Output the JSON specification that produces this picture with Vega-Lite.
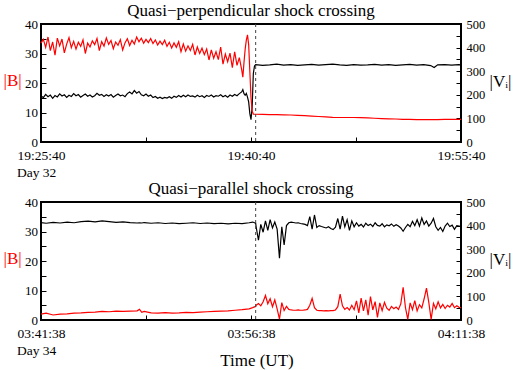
{
  "$schema": "https://vega.github.io/schema/vega-lite/v6.json",
  "background": "white",
  "padding": {"left": 2, "right": 4, "top": 1, "bottom": 2},
  "config": {
    "font": "Liberation Serif",
    "view": {"stroke": "black", "strokeWidth": 2},
    "axis": {
      "domain": false,
      "grid": false,
      "tickColor": "black",
      "tickWidth": 1,
      "tickSize": -5,
      "labelColor": "black",
      "labelFont": "Liberation Serif",
      "titleFont": "Liberation Serif",
      "titleFontWeight": "normal",
      "titleColor": "black",
      "labelFlush": false,
      "labelOverlap": false
    },
    "title": {"font": "Liberation Serif", "fontWeight": "normal", "fontSize": 17, "color": "black"}
  },
  "title": {"text": "Time (UT)", "orient": "bottom", "fontSize": 17, "anchor": "middle", "offset": -5},
  "spacing": -1,
  "vconcat": [
    {
      "width": 420,
      "height": 118,
      "title": {"text": "Quasi−perpendicular shock crossing", "frame": "group", "offset": -2},
      "data": {
        "format": {"parse": {"t": "utc:'%H:%M:%S'"}},
        "values": [
          {"t": "19:25:40", "B": 33.5, "V": 196}, {"t": "19:25:50", "B": 34.8, "V": 188},
          {"t": "19:26:00", "B": 32.1, "V": 202}, {"t": "19:26:10", "B": 35.6, "V": 192},
          {"t": "19:26:20", "B": 31.0, "V": 199}, {"t": "19:26:30", "B": 33.9, "V": 185},
          {"t": "19:26:40", "B": 29.4, "V": 197}, {"t": "19:26:50", "B": 35.2, "V": 191},
          {"t": "19:27:00", "B": 32.6, "V": 204}, {"t": "19:27:10", "B": 34.9, "V": 195},
          {"t": "19:27:20", "B": 30.2, "V": 200}, {"t": "19:27:30", "B": 33.2, "V": 189},
          {"t": "19:27:40", "B": 35.4, "V": 198}, {"t": "19:27:50", "B": 32.0, "V": 193},
          {"t": "19:28:00", "B": 34.1, "V": 205}, {"t": "19:28:10", "B": 31.5, "V": 196},
          {"t": "19:28:20", "B": 33.8, "V": 201}, {"t": "19:28:30", "B": 32.4, "V": 190},
          {"t": "19:28:40", "B": 34.6, "V": 197}, {"t": "19:28:50", "B": 30.0, "V": 203},
          {"t": "19:29:00", "B": 33.5, "V": 194}, {"t": "19:29:10", "B": 32.2, "V": 199},
          {"t": "19:29:20", "B": 34.3, "V": 191}, {"t": "19:29:30", "B": 33.0, "V": 196},
          {"t": "19:29:40", "B": 35.1, "V": 206}, {"t": "19:29:50", "B": 31.0, "V": 198},
          {"t": "19:30:00", "B": 34.0, "V": 202}, {"t": "19:30:10", "B": 32.5, "V": 193},
          {"t": "19:30:20", "B": 35.3, "V": 200}, {"t": "19:30:30", "B": 33.1, "V": 195},
          {"t": "19:30:40", "B": 34.4, "V": 201}, {"t": "19:30:50", "B": 31.6, "V": 190},
          {"t": "19:31:00", "B": 33.9, "V": 197}, {"t": "19:31:10", "B": 32.8, "V": 203},
          {"t": "19:31:20", "B": 34.7, "V": 196}, {"t": "19:31:30", "B": 31.2, "V": 199},
          {"t": "19:31:40", "B": 33.6, "V": 192}, {"t": "19:31:50", "B": 35.0, "V": 205},
          {"t": "19:32:00", "B": 32.7, "V": 212}, {"t": "19:32:10", "B": 34.5, "V": 204},
          {"t": "19:32:20", "B": 33.2, "V": 218}, {"t": "19:32:30", "B": 35.6, "V": 207},
          {"t": "19:32:40", "B": 34.0, "V": 214}, {"t": "19:32:50", "B": 35.2, "V": 200},
          {"t": "19:33:00", "B": 33.5, "V": 196}, {"t": "19:33:10", "B": 34.8, "V": 203},
          {"t": "19:33:20", "B": 33.7, "V": 194}, {"t": "19:33:30", "B": 35.1, "V": 199},
          {"t": "19:33:40", "B": 33.4, "V": 188}, {"t": "19:33:50", "B": 34.6, "V": 193},
          {"t": "19:34:00", "B": 32.9, "V": 185}, {"t": "19:34:10", "B": 34.2, "V": 190},
          {"t": "19:34:20", "B": 33.0, "V": 184}, {"t": "19:34:30", "B": 34.5, "V": 189},
          {"t": "19:34:40", "B": 32.4, "V": 186}, {"t": "19:34:50", "B": 33.8, "V": 192},
          {"t": "19:35:00", "B": 31.9, "V": 185}, {"t": "19:35:10", "B": 33.6, "V": 194},
          {"t": "19:35:20", "B": 32.1, "V": 189}, {"t": "19:35:30", "B": 34.0, "V": 197},
          {"t": "19:35:40", "B": 30.6, "V": 191}, {"t": "19:35:50", "B": 33.2, "V": 198},
          {"t": "19:36:00", "B": 30.8, "V": 192}, {"t": "19:36:10", "B": 32.6, "V": 199},
          {"t": "19:36:20", "B": 31.0, "V": 193}, {"t": "19:36:30", "B": 33.1, "V": 195},
          {"t": "19:36:40", "B": 29.5, "V": 190}, {"t": "19:36:50", "B": 32.2, "V": 198},
          {"t": "19:37:00", "B": 30.0, "V": 192}, {"t": "19:37:10", "B": 31.8, "V": 196},
          {"t": "19:37:20", "B": 29.6, "V": 189}, {"t": "19:37:30", "B": 31.5, "V": 197},
          {"t": "19:37:40", "B": 27.8, "V": 193}, {"t": "19:37:50", "B": 31.2, "V": 199},
          {"t": "19:38:00", "B": 28.4, "V": 191}, {"t": "19:38:10", "B": 30.6, "V": 196},
          {"t": "19:38:20", "B": 27.9, "V": 194}, {"t": "19:38:30", "B": 32.2, "V": 200},
          {"t": "19:38:40", "B": 26.4, "V": 192}, {"t": "19:38:50", "B": 29.8, "V": 197},
          {"t": "19:39:00", "B": 27.2, "V": 190}, {"t": "19:39:10", "B": 30.1, "V": 199},
          {"t": "19:39:20", "B": 25.2, "V": 194}, {"t": "19:39:30", "B": 30.6, "V": 201},
          {"t": "19:39:40", "B": 26.0, "V": 196}, {"t": "19:39:50", "B": 28.6, "V": 205},
          {"t": "19:40:00", "B": 24.5, "V": 212}, {"t": "19:40:05", "B": 22.0, "V": 222},
          {"t": "19:40:10", "B": 27.0, "V": 205}, {"t": "19:40:15", "B": 31.5, "V": 198},
          {"t": "19:40:20", "B": 34.5, "V": 206}, {"t": "19:40:25", "B": 36.3, "V": 190},
          {"t": "19:40:30", "B": 33.0, "V": 170}, {"t": "19:40:35", "B": 24.0, "V": 120},
          {"t": "19:40:40", "B": 15.0, "V": 95}, {"t": "19:40:45", "B": 10.5, "V": 150},
          {"t": "19:40:50", "B": 9.4, "V": 290}, {"t": "19:40:55", "B": 9.4, "V": 322},
          {"t": "19:41:00", "B": 9.4, "V": 328}, {"t": "19:41:30", "B": 9.35, "V": 325},
          {"t": "19:42:00", "B": 9.3, "V": 327}, {"t": "19:42:30", "B": 9.25, "V": 330},
          {"t": "19:43:00", "B": 9.2, "V": 326}, {"t": "19:43:30", "B": 9.15, "V": 328},
          {"t": "19:44:00", "B": 9.05, "V": 325}, {"t": "19:44:30", "B": 8.95, "V": 327},
          {"t": "19:45:00", "B": 8.8, "V": 329}, {"t": "19:45:30", "B": 8.65, "V": 326},
          {"t": "19:46:00", "B": 8.5, "V": 328}, {"t": "19:46:30", "B": 8.35, "V": 330},
          {"t": "19:47:00", "B": 8.3, "V": 327}, {"t": "19:47:30", "B": 8.3, "V": 325},
          {"t": "19:48:00", "B": 8.3, "V": 328}, {"t": "19:48:30", "B": 8.25, "V": 326},
          {"t": "19:49:00", "B": 8.2, "V": 327}, {"t": "19:49:30", "B": 8.05, "V": 329},
          {"t": "19:50:00", "B": 7.95, "V": 326}, {"t": "19:50:30", "B": 7.85, "V": 328},
          {"t": "19:51:00", "B": 7.8, "V": 325}, {"t": "19:51:30", "B": 7.7, "V": 327},
          {"t": "19:52:00", "B": 7.65, "V": 329}, {"t": "19:52:30", "B": 7.6, "V": 326},
          {"t": "19:53:00", "B": 7.6, "V": 328}, {"t": "19:53:30", "B": 7.6, "V": 324},
          {"t": "19:53:45", "B": 7.6, "V": 316}, {"t": "19:54:00", "B": 7.6, "V": 327},
          {"t": "19:54:30", "B": 7.65, "V": 328}, {"t": "19:55:00", "B": 7.65, "V": 326},
          {"t": "19:55:30", "B": 7.7, "V": 328}, {"t": "19:55:40", "B": 7.7, "V": 327}
        ]
      },
      "encoding": {
        "x": {
          "field": "t",
          "type": "temporal",
          "scale": {
            "type": "utc",
            "domain": [
              {"year": 1900, "month": 1, "date": 1, "hours": 19, "minutes": 25, "seconds": 40, "utc": true},
              {"year": 1900, "month": 1, "date": 1, "hours": 19, "minutes": 55, "seconds": 40, "utc": true}
            ]
          },
          "axis": {
            "values": [
              {"year": 1900, "month": 1, "date": 1, "hours": 19, "minutes": 25, "seconds": 40, "utc": true},
              {"year": 1900, "month": 1, "date": 1, "hours": 19, "minutes": 33, "seconds": 10, "utc": true},
              {"year": 1900, "month": 1, "date": 1, "hours": 19, "minutes": 40, "seconds": 40, "utc": true},
              {"year": 1900, "month": 1, "date": 1, "hours": 19, "minutes": 48, "seconds": 10, "utc": true},
              {"year": 1900, "month": 1, "date": 1, "hours": 19, "minutes": 55, "seconds": 40, "utc": true}
            ],
            "labelExpr": "utcseconds(datum.value) == 40 ? utcFormat(datum.value, '%H:%M:%S') : ''",
            "labelFontSize": 13.5,
            "labelPadding": 11.5,
            "title": "Day 32",
            "titleFontSize": 13.5,
            "titleAlign": "left",
            "titleBaseline": "alphabetic",
            "titleX": -24.5,
            "titleY": 34
          }
        }
      },
      "layer": [
        {
          "mark": {"type": "line", "color": "black", "strokeWidth": 1.2},
          "encoding": {
            "y": {
              "field": "V",
              "type": "quantitative",
              "scale": {"domain": [0, 500], "nice": false},
              "axis": {
                "orient": "right",
                "values": [0, 50, 100, 150, 200, 250, 300, 350, 400, 450, 500],
                "labelExpr": "datum.value % 100 == 0 ? datum.label : ''",
                "labelFontSize": 12.5,
                "labelPadding": 10,
                "title": "|Vᵢ|",
                "titleFontSize": 17,
                "titleAngle": 0,
                "titleAlign": "left",
                "titleBaseline": "middle",
                "titleX": 28,
                "titleY": 57
              }
            }
          }
        },
        {
          "mark": {"type": "line", "color": "#ff0000", "strokeWidth": 1.2},
          "encoding": {
            "y": {
              "field": "B",
              "type": "quantitative",
              "scale": {"domain": [0, 40], "nice": false},
              "axis": {
                "orient": "left",
                "values": [0, 5, 10, 15, 20, 25, 30, 35, 40],
                "labelExpr": "datum.value % 10 == 0 ? datum.label : ''",
                "labelFontSize": 13,
                "labelPadding": 8.5,
                "title": "|B|",
                "titleColor": "#ff0000",
                "titleFontSize": 17,
                "titleAngle": 0,
                "titleAlign": "left",
                "titleBaseline": "middle",
                "titleX": -38,
                "titleY": 56
              }
            }
          }
        },
        {
          "data": {"format": {"parse": {"t": "utc:'%H:%M:%S'"}}, "values": [{"t": "19:41:00"}]},
          "mark": {"type": "rule", "color": "#444444", "strokeWidth": 1, "strokeDash": [3, 3]},
          "encoding": {}
        }
      ],
      "resolve": {"scale": {"y": "independent"}}
    },
    {
      "width": 420,
      "height": 118,
      "title": {"text": "Quasi−parallel shock crossing", "frame": "group", "offset": -2},
      "data": {
        "format": {"parse": {"t": "utc:'%H:%M:%S'"}},
        "values": [
          {"t": "03:41:38", "B": 2.0, "V": 413}, {"t": "03:42:00", "B": 2.3, "V": 410},
          {"t": "03:42:30", "B": 1.7, "V": 414}, {"t": "03:43:00", "B": 2.0, "V": 411},
          {"t": "03:43:30", "B": 2.1, "V": 415}, {"t": "03:44:00", "B": 2.3, "V": 412},
          {"t": "03:44:30", "B": 2.4, "V": 417}, {"t": "03:45:00", "B": 2.6, "V": 419},
          {"t": "03:45:30", "B": 2.7, "V": 416}, {"t": "03:46:00", "B": 2.9, "V": 420},
          {"t": "03:46:30", "B": 2.8, "V": 417}, {"t": "03:47:00", "B": 3.0, "V": 414},
          {"t": "03:47:30", "B": 2.9, "V": 416}, {"t": "03:48:00", "B": 3.0, "V": 413},
          {"t": "03:48:30", "B": 3.1, "V": 411}, {"t": "03:48:40", "B": 3.6, "V": 412},
          {"t": "03:48:50", "B": 2.6, "V": 411}, {"t": "03:49:00", "B": 2.9, "V": 413},
          {"t": "03:49:30", "B": 2.4, "V": 410}, {"t": "03:50:00", "B": 2.3, "V": 412},
          {"t": "03:50:30", "B": 2.5, "V": 409}, {"t": "03:51:00", "B": 2.3, "V": 411},
          {"t": "03:51:30", "B": 2.4, "V": 408}, {"t": "03:52:00", "B": 2.6, "V": 410},
          {"t": "03:52:30", "B": 2.5, "V": 412}, {"t": "03:53:00", "B": 2.7, "V": 409},
          {"t": "03:53:30", "B": 2.8, "V": 411}, {"t": "03:54:00", "B": 2.9, "V": 408},
          {"t": "03:54:30", "B": 3.0, "V": 410}, {"t": "03:55:00", "B": 3.1, "V": 407},
          {"t": "03:55:30", "B": 3.3, "V": 410}, {"t": "03:56:00", "B": 3.5, "V": 408},
          {"t": "03:56:30", "B": 3.8, "V": 412}, {"t": "03:56:45", "B": 4.2, "V": 415},
          {"t": "03:56:58", "B": 4.6, "V": 410},
          {"t": "03:57:00", "B": 5.0, "V": 395}, {"t": "03:57:10", "B": 5.6, "V": 338},
          {"t": "03:57:20", "B": 4.8, "V": 405}, {"t": "03:57:30", "B": 6.2, "V": 372},
          {"t": "03:57:40", "B": 8.3, "V": 420}, {"t": "03:57:50", "B": 5.5, "V": 380},
          {"t": "03:58:00", "B": 7.2, "V": 425}, {"t": "03:58:10", "B": 4.5, "V": 390},
          {"t": "03:58:20", "B": 6.8, "V": 415}, {"t": "03:58:30", "B": 3.8, "V": 385},
          {"t": "03:58:40", "B": 0.3, "V": 262}, {"t": "03:58:50", "B": 5.9, "V": 395},
          {"t": "03:59:00", "B": 3.2, "V": 318}, {"t": "03:59:10", "B": 4.6, "V": 400},
          {"t": "03:59:20", "B": 3.6, "V": 412}, {"t": "03:59:30", "B": 3.4, "V": 415},
          {"t": "03:59:40", "B": 3.3, "V": 413}, {"t": "03:59:50", "B": 3.3, "V": 411},
          {"t": "04:00:00", "B": 3.4, "V": 412}, {"t": "04:00:10", "B": 3.3, "V": 409},
          {"t": "04:00:20", "B": 3.3, "V": 407}, {"t": "04:00:30", "B": 3.4, "V": 405},
          {"t": "04:00:40", "B": 3.6, "V": 400}, {"t": "04:00:50", "B": 5.0, "V": 438},
          {"t": "04:01:00", "B": 7.3, "V": 385}, {"t": "04:01:10", "B": 4.2, "V": 445},
          {"t": "04:01:20", "B": 3.3, "V": 392}, {"t": "04:01:30", "B": 3.2, "V": 400},
          {"t": "04:01:40", "B": 3.2, "V": 396}, {"t": "04:01:50", "B": 3.1, "V": 393},
          {"t": "04:02:00", "B": 3.2, "V": 390}, {"t": "04:02:10", "B": 3.1, "V": 395},
          {"t": "04:02:20", "B": 3.2, "V": 388}, {"t": "04:02:30", "B": 3.2, "V": 383},
          {"t": "04:02:40", "B": 3.4, "V": 393}, {"t": "04:02:50", "B": 4.5, "V": 430},
          {"t": "04:03:00", "B": 8.8, "V": 385}, {"t": "04:03:10", "B": 4.8, "V": 440},
          {"t": "04:03:20", "B": 3.6, "V": 395}, {"t": "04:03:30", "B": 4.2, "V": 425},
          {"t": "04:03:40", "B": 3.4, "V": 380}, {"t": "04:03:50", "B": 5.0, "V": 420},
          {"t": "04:04:00", "B": 3.5, "V": 395}, {"t": "04:04:10", "B": 6.5, "V": 412},
          {"t": "04:04:20", "B": 2.4, "V": 398}, {"t": "04:04:30", "B": 7.4, "V": 405},
          {"t": "04:04:40", "B": 3.1, "V": 394}, {"t": "04:04:50", "B": 6.8, "V": 410},
          {"t": "04:05:00", "B": 1.6, "V": 400}, {"t": "04:05:10", "B": 7.9, "V": 406},
          {"t": "04:05:20", "B": 3.4, "V": 396}, {"t": "04:05:30", "B": 6.2, "V": 412},
          {"t": "04:05:40", "B": 0.9, "V": 401}, {"t": "04:05:50", "B": 5.8, "V": 398},
          {"t": "04:06:00", "B": 3.2, "V": 408}, {"t": "04:06:10", "B": 6.0, "V": 395},
          {"t": "04:06:20", "B": 4.0, "V": 403}, {"t": "04:06:30", "B": 3.3, "V": 399},
          {"t": "04:06:40", "B": 4.6, "V": 407}, {"t": "04:06:50", "B": 3.8, "V": 397},
          {"t": "04:07:00", "B": 4.4, "V": 404}, {"t": "04:07:10", "B": 3.6, "V": 398},
          {"t": "04:07:20", "B": 5.5, "V": 390}, {"t": "04:07:30", "B": 11.1, "V": 376},
          {"t": "04:07:40", "B": 4.2, "V": 392}, {"t": "04:07:50", "B": 0.2, "V": 405},
          {"t": "04:08:00", "B": 5.8, "V": 395}, {"t": "04:08:10", "B": 3.5, "V": 418},
          {"t": "04:08:20", "B": 6.6, "V": 400}, {"t": "04:08:30", "B": 3.1, "V": 425},
          {"t": "04:08:40", "B": 5.2, "V": 398}, {"t": "04:08:50", "B": 4.1, "V": 432},
          {"t": "04:09:00", "B": 7.2, "V": 405}, {"t": "04:09:10", "B": 10.8, "V": 420},
          {"t": "04:09:20", "B": 6.0, "V": 398}, {"t": "04:09:30", "B": 0.2, "V": 410},
          {"t": "04:09:40", "B": 5.6, "V": 430}, {"t": "04:09:50", "B": 3.8, "V": 395},
          {"t": "04:10:00", "B": 6.2, "V": 380}, {"t": "04:10:10", "B": 4.1, "V": 392},
          {"t": "04:10:20", "B": 5.3, "V": 375}, {"t": "04:10:30", "B": 3.9, "V": 398},
          {"t": "04:10:40", "B": 5.0, "V": 410}, {"t": "04:10:50", "B": 4.4, "V": 396},
          {"t": "04:11:00", "B": 5.6, "V": 402}, {"t": "04:11:10", "B": 4.2, "V": 384},
          {"t": "04:11:20", "B": 4.8, "V": 400}, {"t": "04:11:30", "B": 4.3, "V": 398},
          {"t": "04:11:38", "B": 4.2, "V": 395}
        ]
      },
      "encoding": {
        "x": {
          "field": "t",
          "type": "temporal",
          "scale": {
            "type": "utc",
            "domain": [
              {"year": 1900, "month": 1, "date": 1, "hours": 3, "minutes": 41, "seconds": 38, "utc": true},
              {"year": 1900, "month": 1, "date": 1, "hours": 4, "minutes": 11, "seconds": 38, "utc": true}
            ]
          },
          "axis": {
            "values": [
              {"year": 1900, "month": 1, "date": 1, "hours": 3, "minutes": 41, "seconds": 38, "utc": true},
              {"year": 1900, "month": 1, "date": 1, "hours": 3, "minutes": 49, "seconds": 8, "utc": true},
              {"year": 1900, "month": 1, "date": 1, "hours": 3, "minutes": 56, "seconds": 38, "utc": true},
              {"year": 1900, "month": 1, "date": 1, "hours": 4, "minutes": 4, "seconds": 8, "utc": true},
              {"year": 1900, "month": 1, "date": 1, "hours": 4, "minutes": 11, "seconds": 38, "utc": true}
            ],
            "labelExpr": "utcseconds(datum.value) == 38 ? utcFormat(datum.value, '%H:%M:%S') : ''",
            "labelFontSize": 13.5,
            "labelPadding": 11.5,
            "title": "Day 34",
            "titleFontSize": 13.5,
            "titleAlign": "left",
            "titleBaseline": "alphabetic",
            "titleX": -24.5,
            "titleY": 34
          }
        }
      },
      "layer": [
        {
          "mark": {"type": "line", "color": "black", "strokeWidth": 1.2},
          "encoding": {
            "y": {
              "field": "V",
              "type": "quantitative",
              "scale": {"domain": [0, 500], "nice": false},
              "axis": {
                "orient": "right",
                "values": [0, 50, 100, 150, 200, 250, 300, 350, 400, 450, 500],
                "labelExpr": "datum.value % 100 == 0 ? datum.label : ''",
                "labelFontSize": 12.5,
                "labelPadding": 10,
                "title": "|Vᵢ|",
                "titleFontSize": 17,
                "titleAngle": 0,
                "titleAlign": "left",
                "titleBaseline": "middle",
                "titleX": 28,
                "titleY": 57
              }
            }
          }
        },
        {
          "mark": {"type": "line", "color": "#ff0000", "strokeWidth": 1.2},
          "encoding": {
            "y": {
              "field": "B",
              "type": "quantitative",
              "scale": {"domain": [0, 40], "nice": false},
              "axis": {
                "orient": "left",
                "values": [0, 5, 10, 15, 20, 25, 30, 35, 40],
                "labelExpr": "datum.value % 10 == 0 ? datum.label : ''",
                "labelFontSize": 13,
                "labelPadding": 8.5,
                "title": "|B|",
                "titleColor": "#ff0000",
                "titleFontSize": 17,
                "titleAngle": 0,
                "titleAlign": "left",
                "titleBaseline": "middle",
                "titleX": -38,
                "titleY": 56
              }
            }
          }
        },
        {
          "data": {"format": {"parse": {"t": "utc:'%H:%M:%S'"}}, "values": [{"t": "03:56:58"}]},
          "mark": {"type": "rule", "color": "#444444", "strokeWidth": 1, "strokeDash": [3, 3]},
          "encoding": {}
        }
      ],
      "resolve": {"scale": {"y": "independent"}}
    }
  ]
}
